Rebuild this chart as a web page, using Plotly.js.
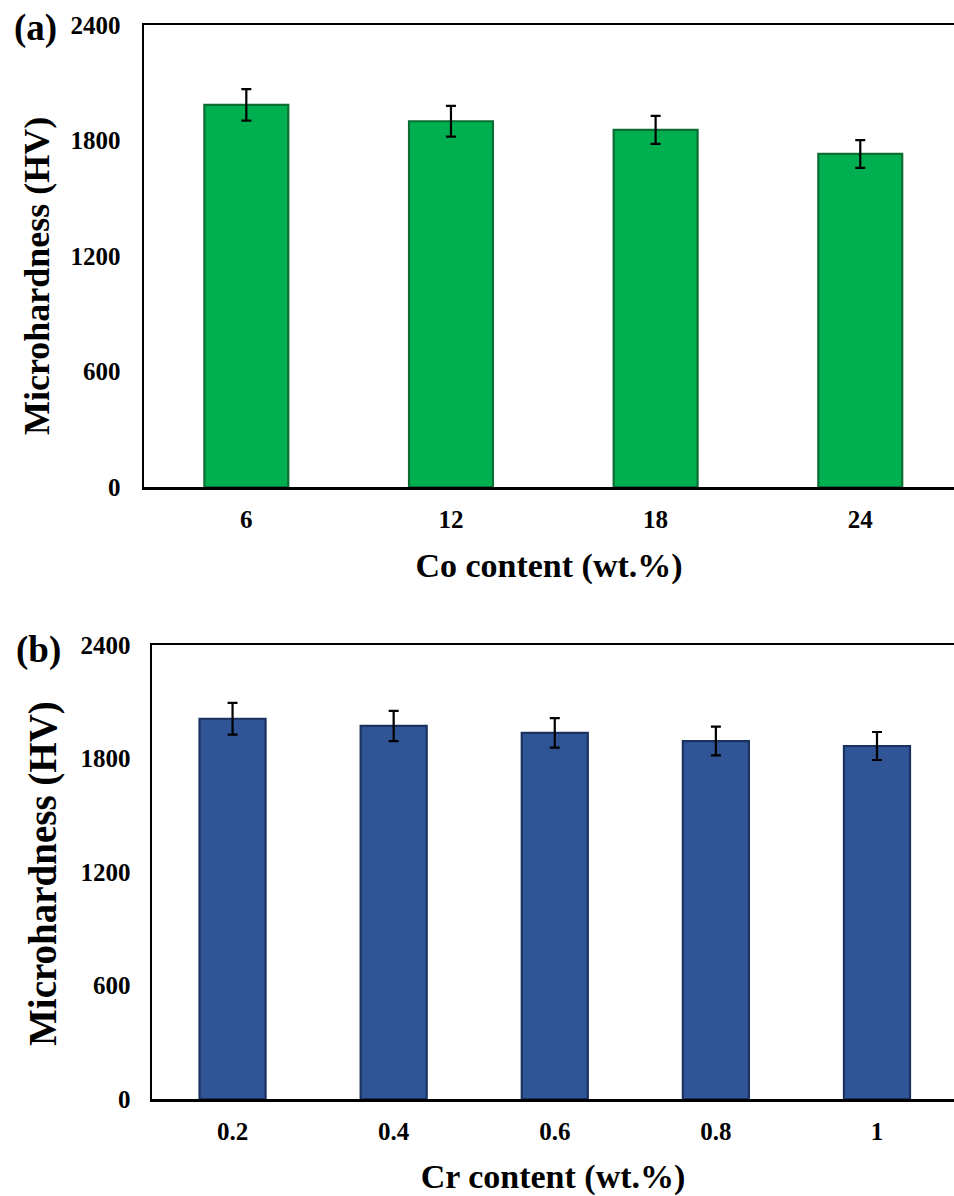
<!DOCTYPE html>
<html>
<head>
<meta charset="utf-8">
<script src="https://cdn.plot.ly/plotly-3.0.1.min.js"></script>
<style>html,body{margin:0;padding:0;background:#fff;}#chart{width:954px;height:1196px;}</style>
</head>
<body>
<div id="chart"></div>
<script>
// Panel (a): Co content
const coContent = ['6', '12', '18', '24'];
const coHardness = [1985, 1900, 1855, 1730];
const coError = [82, 80, 73, 72];

// Panel (b): Cr content
const crContent = ['0.2', '0.4', '0.6', '0.8', '1'];
const crHardness = [2010, 1972, 1935, 1892, 1866];
const crError = [84, 80, 78, 76, 74];

const yTicks = [0, 600, 1200, 1800, 2400];

const W = 954, H = 1196;
const font = 'Liberation Serif, Times New Roman, serif';

const traceA = {
  type: 'bar', x: coContent, y: coHardness, xaxis: 'x', yaxis: 'y',
  width: 0.41,
  marker: {color: '#00B050', line: {color: '#0A6E33', width: 2.2}},
  error_y: {type: 'data', array: coError, visible: true, color: '#000', thickness: 2.2, width: 5},
  hoverinfo: 'x+y', showlegend: false
};
const traceB = {
  type: 'bar', x: crContent, y: crHardness, xaxis: 'x2', yaxis: 'y2',
  width: 0.41,
  marker: {color: '#2F5597', line: {color: '#1B3260', width: 2.2}},
  error_y: {type: 'data', array: crError, visible: true, color: '#000', thickness: 2.2, width: 5},
  hoverinfo: 'x+y', showlegend: false
};

const tickFont = {family: font, size: 25, color: '#000', weight: 'bold'};

function yAxis(domain, anchor, standoff) {
  return {
    domain: domain, anchor: anchor, range: [0, 2400],
    tickvals: yTicks, ticktext: yTicks.map(String),
    showgrid: false, zeroline: false,
    showline: true, linecolor: '#000', linewidth: 2.5, mirror: false,
    ticks: '', ticklabelstandoff: standoff,
    tickfont: tickFont
  };
}
function xAxis(domain, anchor, cats, rangeEnd, title, titleStandoff) {
  return {
    domain: domain, anchor: anchor, type: 'category',
    categoryorder: 'array', categoryarray: cats,
    range: [-0.5, rangeEnd],
    showgrid: false, zeroline: false,
    showline: true, linecolor: '#000', linewidth: 2.5, mirror: true,
    ticks: '', ticklabelstandoff: 8,
    tickfont: tickFont,
    title: {text: '<b>' + title + '</b>', font: {family: font, size: 34, color: '#000'}, standoff: titleStandoff}
  };
}

const layout = {
  width: W, height: H,
  margin: {l: 0, r: 0, t: 0, b: 0},
  paper_bgcolor: '#fff', plot_bgcolor: '#fff',
  font: {family: font, color: '#000'},
  xaxis: xAxis([144 / W, 1], 'y', coContent, 3.458, 'Co content (wt.%)', 22),
  yaxis: yAxis([1 - 487 / H, 1 - 25 / H], 'x', 16),
  xaxis2: xAxis([152 / W, 1], 'y2', crContent, 4.478, 'Cr content (wt.%)', 32),
  yaxis2: yAxis([1 - 1099 / H, 1 - 645 / H], 'x2', 14),
  annotations: [
    {text: '<b>(a)</b>', xref: 'paper', yref: 'paper', x: 35 / W, y: 1 - 28 / H,
     xanchor: 'center', yanchor: 'middle', showarrow: false,
     font: {family: font, size: 37, color: '#000'}},
    {text: '<b>(b)</b>', xref: 'paper', yref: 'paper', x: 38 / W, y: 1 - 650 / H,
     xanchor: 'center', yanchor: 'middle', showarrow: false,
     font: {family: font, size: 37, color: '#000'}},
    {text: '<b>Microhardness (HV)</b>', xref: 'paper', yref: 'paper', x: 37 / W, y: 1 - 276 / H,
     xanchor: 'center', yanchor: 'middle', textangle: -90, showarrow: false,
     font: {family: font, size: 36, color: '#000'}},
    {text: '<b>Microhardness (HV)</b>', xref: 'paper', yref: 'paper', x: 43 / W, y: 1 - 874 / H,
     xanchor: 'center', yanchor: 'middle', textangle: -90, showarrow: false,
     font: {family: font, size: 39, color: '#000'}}
  ]
};

Plotly.newPlot('chart', [traceA, traceB], layout, {displayModeBar: false, staticPlot: true});
</script>
</body>
</html>
